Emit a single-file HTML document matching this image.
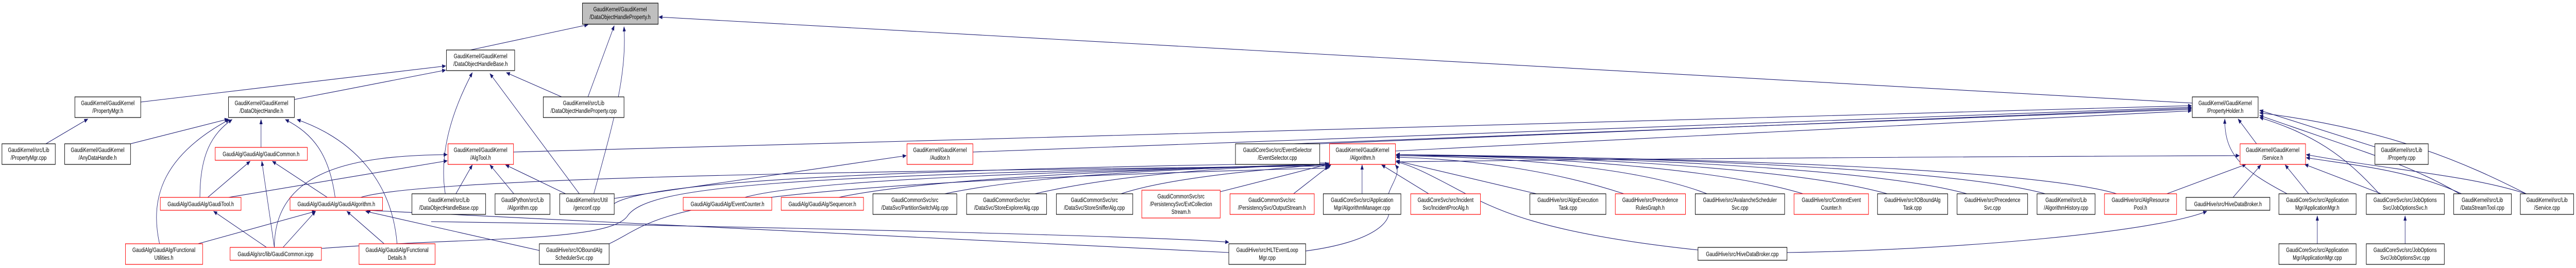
<!DOCTYPE html>
<html><head><meta charset="utf-8"><style>
html,body{margin:0;padding:0;background:#fff;width:100%;height:100%;overflow:hidden;}
svg{display:block;width:100vw;height:100vh;}
text{font-family:"Liberation Sans",sans-serif;font-size:12px;text-anchor:middle;fill:#000;}
.n{fill:#fff;stroke:#000;stroke-width:1.2;}
.r{fill:#fff;stroke:#ff0000;stroke-width:1.2;}
.g{fill:#bfbfbf;stroke:#000;stroke-width:1.2;}
.e{fill:none;stroke:#191970;stroke-width:1.1;marker-end:url(#a);}
</style></head><body>
<svg viewBox="0 0 6572 520" preserveAspectRatio="none" xmlns="http://www.w3.org/2000/svg">
<defs><marker id="a" markerWidth="10" markerHeight="8" refX="9" refY="4" orient="auto" markerUnits="userSpaceOnUse"><path d="M0,0 L10,4 L0,8 z" fill="#191970"/></marker></defs>
<g>
<path class="e" d="M1200,97 L1500,48"/>
<path class="e" d="M1500,188 L1567,50"/>
<path class="e" d="M1515,376 C1560,250 1600,150 1592,52"/>
<path class="e" d="M5593,200 L1681,33"/>
<path class="e" d="M359,198 L1137,128"/>
<path class="e" d="M751,193 L1137,136"/>
<path class="e" d="M1433,188 L1292,141"/>
<path class="e" d="M1478,376 L1250,143"/>
<path class="e" d="M1136,376 C1120,300 1150,220 1205,141"/>
<path class="e" d="M117,279 L224,231"/>
<path class="e" d="M333,279 L582,231"/>
<path class="e" d="M666,286 L666,232"/>
<path class="e" d="M510,383 C510,300 540,260 592,232"/>
<path class="e" d="M855,383 C840,300 800,260 728,232"/>
<path class="e" d="M407,473 C380,380 420,300 585,232"/>
<path class="e" d="M1013,473 C1000,350 900,270 758,232"/>
<path class="e" d="M530,383 L638,313"/>
<path class="e" d="M700,480 L668,313"/>
<path class="e" d="M835,383 L695,313"/>
<path class="e" d="M680,480 L545,410"/>
<path class="e" d="M722,480 L805,410"/>
<path class="e" d="M505,473 L805,410"/>
<path class="e" d="M980,473 L885,410"/>
<path class="e" d="M1376,486 L933,410"/>
<path class="e" d="M3135,490 L936,408"/>
<path class="e" d="M700,480 C700,330 900,302 1141,300"/>
<path class="e" d="M583,383 L1141,312"/>
<path class="e" d="M1163,376 L1205,320"/>
<path class="e" d="M1311,376 L1250,320"/>
<path class="e" d="M1443,376 L1290,320"/>
<path class="e" d="M1310,295 L5591,205"/>
<path class="e" d="M2482,295 L5591,208"/>
<path class="e" d="M1567,385 L2312,302"/>
<path class="e" d="M3300,279 L5591,212"/>
<path class="e" d="M3560,293 L5591,215"/>
<path class="e" d="M5757,279 L5710,231"/>
<path class="e" d="M5835,376 C5720,330 5675,300 5676,231"/>
<path class="e" d="M6070,376 C5980,300 5900,260 5765,228"/>
<path class="e" d="M6275,376 C6150,320 6050,300 5765,224"/>
<path class="e" d="M6445,376 C6300,320 6100,250 5765,219"/>
<path class="e" d="M6059,285 L5765,214"/>
<path class="e" d="M5528,376 L5730,319"/>
<path class="e" d="M5697,383 L5768,320"/>
<path class="e" d="M5890,376 L5830,320"/>
<path class="e" d="M6075,376 L5880,319"/>
<path class="e" d="M6280,376 C6150,330 6000,320 5884,306"/>
<path class="e" d="M6445,376 C6300,340 6100,330 5884,300"/>
<path class="e" d="M1567,395 C1700,330 3000,310 5713,302"/>
<path class="e" d="M5912,473 L5912,419"/>
<path class="e" d="M6136,473 L6136,419"/>
<path class="e" d="M4559,490 C5000,485 5500,450 5630,410"/>
<path class="e" d="M1900,383 C2100,340 3000,330 3390,318"/>
<path class="e" d="M2140,383 C2400,340 3100,325 3390,318"/>
<path class="e" d="M2410,376 C2700,330 3200,325 3390,318"/>
<path class="e" d="M2640,376 C2900,330 3250,322 3390,318"/>
<path class="e" d="M2860,376 C3000,340 3300,325 3390,318"/>
<path class="e" d="M3113,372 L3392,318"/>
<path class="e" d="M3300,376 L3396,319"/>
<path class="e" d="M3475,376 L3475,320"/>
<path class="e" d="M3645,376 L3525,320"/>
<path class="e" d="M3920,376 L3562,312"/>
<path class="e" d="M4143,376 C4000,340 3800,310 3562,305"/>
<path class="e" d="M4355,376 C4200,330 3900,305 3562,302"/>
<path class="e" d="M4600,376 C4400,330 4000,305 3562,300"/>
<path class="e" d="M4815,376 C4600,330 4100,305 3562,300"/>
<path class="e" d="M5018,376 C4800,330 4200,305 3562,300"/>
<path class="e" d="M5218,376 C5000,330 4300,305 3562,300"/>
<path class="e" d="M5400,376 C5200,330 4400,305 3562,302"/>
<path class="e" d="M3331,487 C3500,470 3560,430 3540,400 C3530,370 3580,340 3560,320"/>
<path class="e" d="M4332,485 C3900,450 3800,400 3700,360 C3650,340 3600,320 3562,314"/>
<path class="e" d="M1554,473 C1700,420 1650,360 3390,326"/>
<path class="e" d="M920,383 C1100,340 2500,330 3390,322"/>
<path class="e" d="M820,482 C1200,460 1550,470 1600,420 C1650,360 2000,340 3390,320"/>
<path class="e" d="M1100,430 C2000,440 3000,460 3135,470"/>
<path class="e" d="M3367,279 L5591,210"/>
</g>
<g>
<rect class="g" x="1486" y="6" width="193" height="41"/><text x="1582" y="22">GaudiKernel/GaudiKernel</text><text x="1582" y="37">/DataObjectHandleProperty.h</text>
<rect class="n" x="1139" y="97" width="174" height="40"/><text x="1226" y="113">GaudiKernel/GaudiKernel</text><text x="1226" y="128">/DataObjectHandleBase.h</text>
<rect class="n" x="191" y="188" width="168" height="40"/><text x="275" y="204">GaudiKernel/GaudiKernel</text><text x="275" y="219">/PropertyMgr.h</text>
<rect class="n" x="583" y="188" width="168" height="40"/><text x="667" y="204">GaudiKernel/GaudiKernel</text><text x="667" y="219">/DataObjectHandle.h</text>
<rect class="n" x="1386" y="188" width="206" height="40"/><text x="1489" y="204">GaudiKernel/src/Lib</text><text x="1489" y="219">/DataObjectHandleProperty.cpp</text>
<rect class="n" x="5593" y="188" width="168" height="40"/><text x="5677" y="204">GaudiKernel/GaudiKernel</text><text x="5677" y="219">/PropertyHolder.h</text>
<rect class="n" x="5" y="279" width="136" height="40"/><text x="73" y="295">GaudiKernel/src/Lib</text><text x="73" y="310">/PropertyMgr.cpp</text>
<rect class="n" x="165" y="279" width="168" height="40"/><text x="249" y="295">GaudiKernel/GaudiKernel</text><text x="249" y="310">/AnyDataHandle.h</text>
<rect class="r" x="549" y="286" width="235" height="25"/><text x="666" y="303">GaudiAlg/GaudiAlg/GaudiCommon.h</text>
<rect class="r" x="1143" y="279" width="167" height="40"/><text x="1226" y="295">GaudiKernel/GaudiKernel</text><text x="1226" y="310">/AlgTool.h</text>
<rect class="r" x="2314" y="279" width="168" height="40"/><text x="2398" y="295">GaudiKernel/GaudiKernel</text><text x="2398" y="310">/Auditor.h</text>
<rect class="n" x="3152" y="279" width="215" height="40"/><text x="3259" y="295">GaudiCoreSvc/src/EventSelector</text><text x="3259" y="310">/EventSelector.cpp</text>
<rect class="r" x="3392" y="279" width="168" height="40"/><text x="3476" y="295">GaudiKernel/GaudiKernel</text><text x="3476" y="310">/Algorithm.h</text>
<rect class="r" x="5715" y="279" width="167" height="40"/><text x="5798" y="295">GaudiKernel/GaudiKernel</text><text x="5798" y="310">/Service.h</text>
<rect class="n" x="6059" y="279" width="136" height="40"/><text x="6127" y="295">GaudiKernel/src/Lib</text><text x="6127" y="310">/Property.cpp</text>

<rect class="r" x="409" y="383" width="206" height="25"/><text x="512" y="400">GaudiAlg/GaudiAlg/GaudiTool.h</text>
<rect class="r" x="740" y="383" width="236" height="25"/><text x="858" y="400">GaudiAlg/GaudiAlg/GaudiAlgorithm.h</text>
<rect class="n" x="1051" y="376" width="188" height="40"/><text x="1145" y="392">GaudiKernel/src/Lib</text><text x="1145" y="407">/DataObjectHandleBase.cpp</text>
<rect class="n" x="1263" y="376" width="140" height="40"/><text x="1333" y="392">GaudiPython/src/Lib</text><text x="1333" y="407">/Algorithm.cpp</text>
<rect class="n" x="1428" y="376" width="139" height="40"/><text x="1497" y="392">GaudiKernel/src/Util</text><text x="1497" y="407">/genconf.cpp</text>
<rect class="r" x="1743" y="383" width="226" height="25"/><text x="1856" y="400">GaudiAlg/GaudiAlg/EventCounter.h</text>
<rect class="r" x="1993" y="383" width="210" height="25"/><text x="2098" y="400">GaudiAlg/GaudiAlg/Sequencer.h</text>
<rect class="n" x="2227" y="376" width="214" height="40"/><text x="2334" y="392">GaudiCommonSvc/src</text><text x="2334" y="407">/DataSvc/PartitionSwitchAlg.cpp</text>
<rect class="n" x="2466" y="376" width="204" height="40"/><text x="2568" y="392">GaudiCommonSvc/src</text><text x="2568" y="407">/DataSvc/StoreExplorerAlg.cpp</text>
<rect class="n" x="2695" y="376" width="195" height="40"/><text x="2792" y="392">GaudiCommonSvc/src</text><text x="2792" y="407">/DataSvc/StoreSnifferAlg.cpp</text>
<rect class="r" x="2913" y="369" width="200" height="54"/><text x="3013" y="385">GaudiCommonSvc/src</text><text x="3013" y="400">/PersistencySvc/EvtCollection</text><text x="3013" y="415">Stream.h</text>
<rect class="r" x="3138" y="376" width="215" height="40"/><text x="3245" y="392">GaudiCommonSvc/src</text><text x="3245" y="407">/PersistencySvc/OutputStream.h</text>
<rect class="n" x="3376" y="376" width="198" height="40"/><text x="3475" y="392">GaudiCoreSvc/src/Application</text><text x="3475" y="407">Mgr/AlgorithmManager.cpp</text>
<rect class="r" x="3599" y="376" width="178" height="40"/><text x="3688" y="392">GaudiCoreSvc/src/Incident</text><text x="3688" y="407">Svc/IncidentProcAlg.h</text>
<rect class="n" x="3903" y="376" width="194" height="40"/><text x="4000" y="392">GaudiHive/src/AlgoExecution</text><text x="4000" y="407">Task.cpp</text>
<rect class="r" x="4121" y="376" width="179" height="40"/><text x="4210" y="392">GaudiHive/src/Precedence</text><text x="4210" y="407">RulesGraph.h</text>
<rect class="n" x="4325" y="376" width="228" height="40"/><text x="4439" y="392">GaudiHive/src/AvalancheScheduler</text><text x="4439" y="407">Svc.cpp</text>
<rect class="r" x="4577" y="376" width="190" height="40"/><text x="4672" y="392">GaudiHive/src/ContextEvent</text><text x="4672" y="407">Counter.h</text>
<rect class="n" x="4790" y="376" width="179" height="40"/><text x="4879" y="392">GaudiHive/src/IOBoundAlg</text><text x="4879" y="407">Task.cpp</text>
<rect class="n" x="4993" y="376" width="180" height="40"/><text x="5083" y="392">GaudiHive/src/Precedence</text><text x="5083" y="407">Svc.cpp</text>
<rect class="n" x="5197" y="376" width="148" height="40"/><text x="5271" y="392">GaudiKernel/src/Lib</text><text x="5271" y="407">/AlgorithmHistory.cpp</text>
<rect class="r" x="5369" y="376" width="184" height="40"/><text x="5461" y="392">GaudiHive/src/AlgResource</text><text x="5461" y="407">Pool.h</text>
<rect class="n" x="5577" y="383" width="214" height="25"/><text x="5684" y="400">GaudiHive/src/HiveDataBroker.h</text>
<rect class="n" x="5814" y="376" width="197" height="40"/><text x="5912" y="392">GaudiCoreSvc/src/Application</text><text x="5912" y="407">Mgr/ApplicationMgr.h</text>
<rect class="n" x="6037" y="376" width="199" height="40"/><text x="6136" y="392">GaudiCoreSvc/src/JobOptions</text><text x="6136" y="407">Svc/JobOptionsSvc.h</text>
<rect class="n" x="6260" y="376" width="147" height="40"/><text x="6333" y="392">GaudiKernel/src/Lib</text><text x="6333" y="407">/DataStreamTool.cpp</text>
<rect class="n" x="6430" y="376" width="136" height="40"/><text x="6498" y="392">GaudiKernel/src/Lib</text><text x="6498" y="407">/Service.cpp</text>

<rect class="r" x="320" y="473" width="197" height="40"/><text x="418" y="489">GaudiAlg/GaudiAlg/Functional</text><text x="418" y="504">Utilities.h</text>
<rect class="r" x="587" y="480" width="233" height="25"/><text x="703" y="497">GaudiAlg/src/lib/GaudiCommon.icpp</text>
<rect class="r" x="916" y="473" width="194" height="40"/><text x="1013" y="489">GaudiAlg/GaudiAlg/Functional</text><text x="1013" y="504">Details.h</text>
<rect class="n" x="1376" y="473" width="178" height="40"/><text x="1465" y="489">GaudiHive/src/IOBoundAlg</text><text x="1465" y="504">SchedulerSvc.cpp</text>
<rect class="n" x="3135" y="473" width="196" height="40"/><text x="3233" y="489">GaudiHive/src/HLTEventLoop</text><text x="3233" y="504">Mgr.cpp</text>
<rect class="n" x="4332" y="480" width="227" height="25"/><text x="4445" y="497">GaudiHive/src/HiveDataBroker.cpp</text>
<rect class="n" x="5814" y="473" width="197" height="40"/><text x="5912" y="489">GaudiCoreSvc/src/Application</text><text x="5912" y="504">Mgr/ApplicationMgr.cpp</text>
<rect class="n" x="6037" y="473" width="199" height="40"/><text x="6136" y="489">GaudiCoreSvc/src/JobOptions</text><text x="6136" y="504">Svc/JobOptionsSvc.cpp</text>
</g>
</svg>
</body></html>
